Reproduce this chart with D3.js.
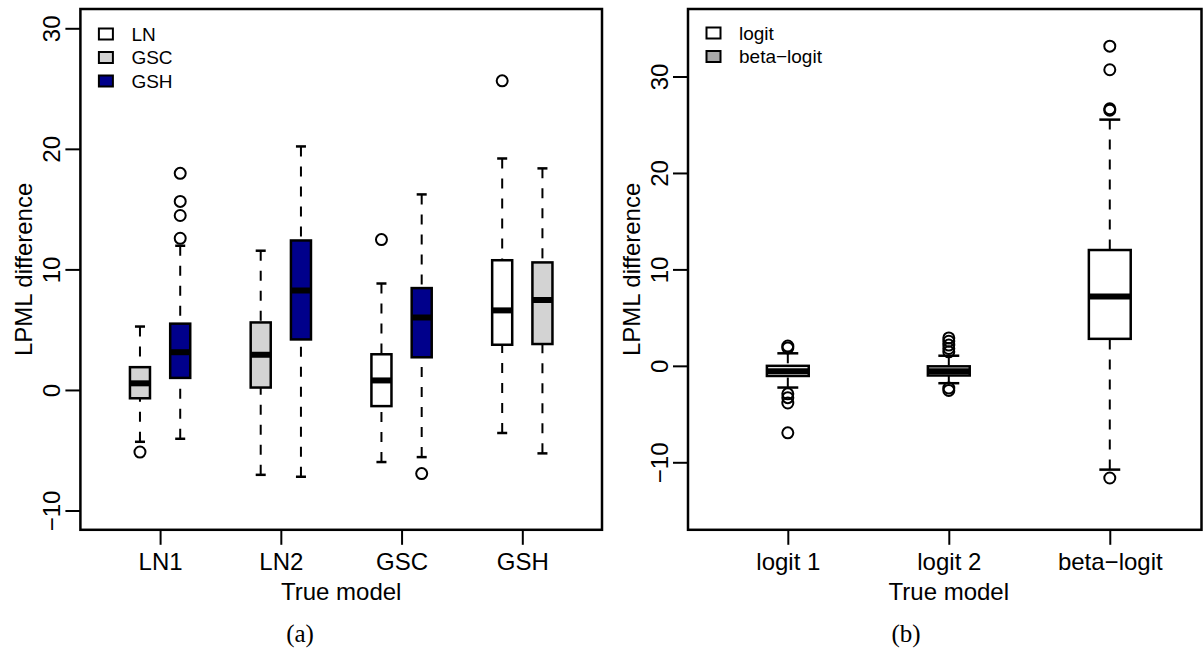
<!DOCTYPE html>
<html>
<head>
<meta charset="utf-8">
<script src="https://cdn.jsdelivr.net/npm/d3@7"></script>
<style>
body { margin: 0; background: #fff; }
text { font-family: "Liberation Sans", Arial, sans-serif; fill: #000; }
</style>
</head>
<body>
<div id="chart"></div>
<script>
// panel (a)
var groupsA = ["LN1", "LN2", "GSC", "GSH"];
var fitsA = ["LN", "GSC", "GSH"];
var boxGroupA = ["LN1", "LN1", "LN2", "LN2", "GSC", "GSC", "GSH", "GSH"];
var boxFitA = ["GSC", "GSH", "GSC", "GSH", "LN", "GSH", "LN", "GSC"];
// lower whisker, q1, median, q3, upper whisker
var statsA = [
    [-4.3, -0.69, 0.55, 1.89, 5.26],
    [-4.05, 1.0, 3.13, 5.5, 11.96],
    [-7.04, 0.2, 2.92, 5.6, 11.55],
    [-7.2, 4.19, 8.25, 12.4, 20.2],
    [-5.98, -1.34, 0.79, 2.96, 8.83],
    [-5.57, 2.71, 6.01, 8.45, 16.22],
    [-3.57, 3.75, 6.6, 10.76, 19.2],
    [-5.26, 3.81, 7.46, 10.58, 18.38]
];
var outliersA = [[-5.15], [12.58, 14.47, 15.64, 17.97], [], [], [12.47], [-6.94], [25.64], []];
var yTicksA = [-10, 0, 10, 20, 30];

// panel (b)
var groupsB = ["logit 1", "logit 2", "beta\u2212logit"];
var fitsB = ["logit", "beta\u2212logit"];
var boxGroupB = ["logit 1", "logit 2", "beta\u2212logit"];
var boxFitB = ["logit", "logit", "logit"];
var statsB = [
    [-2.25, -1.05, -0.55, 0.0, 1.3],
    [-1.8, -1.0, -0.55, -0.05, 1.05],
    [-10.76, 2.8, 7.19, 12.01, 25.53]
];
var outliersB = [
    [1.85, 2.05, -2.9, -3.3, -3.85, -6.95],
    [1.45, 1.8, 2.15, 2.55, 2.9, -2.3, -2.55],
    [26.5, 26.65, 30.7, 33.15, -11.63]
];
var yTicksB = [-10, 0, 10, 20, 30];

var fillA = {"LN": "#ffffff", "GSC": "#d3d3d3", "GSH": "#00008b"};
var fillB = {"logit": "#ffffff", "beta\u2212logit": "#a9a9a9"};

var svg = d3.select("#chart").append("svg")
    .attr("width", 1203)
    .attr("height", 649);

function drawPanel(p) {
    var n = p.groups.length;
    var top = 9, bottom = 529.8;
    var x = d3.scaleLinear().domain([0.5 - 0.04 * n, n + 0.5 + 0.04 * n]).range([p.x0, p.x1]);
    var span = p.ylim[1] - p.ylim[0];
    var y = d3.scaleLinear().domain([p.ylim[0] - 0.04 * span, p.ylim[1] + 0.04 * span]).range([bottom, top]);
    var g = svg.append("g");

    var boxes = p.stats.map(function (s, k) {
        var gi = p.groups.indexOf(p.boxGroup[k]) + 1;
        var same = 0;
        p.boxGroup.forEach(function (b) { if (b == p.boxGroup[k]) same++; });
        var off = 0;
        if (same > 1) {
            off = (k > 0 && p.boxGroup[k - 1] == p.boxGroup[k]) ? p.offset : -p.offset;
        }
        return { pos: gi + off, s: s, fill: p.fill[p.boxFit[k]], out: p.outliers[k] };
    });
    var hw = (x(p.boxW) - x(0)) / 2;

    var bx = g.selectAll(".box").data(boxes).enter().append("g").attr("class", "box");
    // whiskers
    bx.append("line")
        .attr("x1", function (d) { return x(d.pos); })
        .attr("x2", function (d) { return x(d.pos); })
        .attr("y1", function (d) { return y(d.s[0]); })
        .attr("y2", function (d) { return y(d.s[1]); })
        .attr("stroke", "#000").attr("stroke-width", 2).attr("stroke-dasharray", "10,10");
    bx.append("line")
        .attr("x1", function (d) { return x(d.pos); })
        .attr("x2", function (d) { return x(d.pos); })
        .attr("y1", function (d) { return y(d.s[4]); })
        .attr("y2", function (d) { return y(d.s[3]); })
        .attr("stroke", "#000").attr("stroke-width", 2).attr("stroke-dasharray", "10,10");
    // staples
    [0, 4].forEach(function (idx) {
        bx.append("line")
            .attr("x1", function (d) { return x(d.pos) - hw / 2; })
            .attr("x2", function (d) { return x(d.pos) + hw / 2; })
            .attr("y1", function (d) { return y(d.s[idx]); })
            .attr("y2", function (d) { return y(d.s[idx]); })
            .attr("stroke", "#000").attr("stroke-width", 2.5);
    });
    bx.append("rect")
        .attr("x", function (d) { return x(d.pos) - hw; })
        .attr("width", 2 * hw)
        .attr("y", function (d) { return y(d.s[3]); })
        .attr("height", function (d) { return y(d.s[1]) - y(d.s[3]); })
        .attr("fill", function (d) { return d.fill; })
        .attr("stroke", "#000").attr("stroke-width", 2.5);
    bx.append("line")
        .attr("x1", function (d) { return x(d.pos) - hw; })
        .attr("x2", function (d) { return x(d.pos) + hw; })
        .attr("y1", function (d) { return y(d.s[2]); })
        .attr("y2", function (d) { return y(d.s[2]); })
        .attr("stroke", "#000").attr("stroke-width", 6);
    bx.selectAll("circle").data(function (d) {
        return d.out.map(function (v) { return { pos: d.pos, v: v }; });
    }).enter().append("circle")
        .attr("cx", function (d) { return x(d.pos); })
        .attr("cy", function (d) { return y(d.v); })
        .attr("r", 5.5)
        .attr("fill", "none")
        .attr("stroke", "#000").attr("stroke-width", 2);

    // frame (right panel is cut at the page edge)
    var fx1 = Math.min(p.x1, 1201.5);
    g.append("rect")
        .attr("x", p.x0).attr("y", top)
        .attr("width", fx1 - p.x0).attr("height", bottom - top)
        .attr("fill", "none").attr("stroke", "#000").attr("stroke-width", 2.5);

    var xa = g.append("g")
        .attr("transform", "translate(0," + bottom + ")")
        .call(d3.axisBottom(x).tickValues(d3.range(1, n + 1)).tickSize(15)
            .tickFormat(function (d) { return p.groups[d - 1]; }));
    xa.select(".domain").remove();
    xa.selectAll("line").attr("stroke-width", 2);
    xa.selectAll("text").attr("y", 40).attr("dy", 0)
        .attr("font-size", 24).attr("font-family", "Liberation Sans, Arial, sans-serif");

    var ya = g.append("g")
        .attr("transform", "translate(" + p.x0 + ",0)")
        .call(d3.axisLeft(y).tickValues(p.yTicks).tickSize(15));
    ya.select(".domain").remove();
    ya.selectAll("line").attr("stroke-width", 2);
    ya.selectAll("text")
        .attr("transform", "rotate(-90)")
        .attr("x", 0).attr("y", -20).attr("dy", 0)
        .attr("text-anchor", "middle")
        .attr("font-size", 24).attr("font-family", "Liberation Sans, Arial, sans-serif");

    g.append("text")
        .attr("x", (p.x0 + p.x1) / 2).attr("y", 600)
        .attr("text-anchor", "middle").attr("font-size", 24)
        .text("True model");
    g.append("text")
        .attr("transform", "translate(" + (p.x0 - 48) + "," + (top + bottom) / 2 + ") rotate(-90)")
        .attr("text-anchor", "middle").attr("font-size", 24)
        .text("LPML difference");

    // legend
    var lg = g.selectAll(".leg").data(p.legend).enter().append("g")
        .attr("transform", function (d, i) { return "translate(" + p.x0 + "," + (p.legY + i * 23.5) + ")"; });
    lg.append("rect")
        .attr("x", 18.5).attr("y", -5.5).attr("width", 14).attr("height", 11)
        .attr("fill", function (d) { return p.fill[d]; })
        .attr("stroke", "#000").attr("stroke-width", 2);
    lg.append("text")
        .attr("x", 51).attr("y", 6.8).attr("font-size", 19)
        .text(function (d) { return d; });

    g.append("text")
        .attr("x", p.capX).attr("y", 642)
        .attr("text-anchor", "middle").attr("font-size", 25)
        .style("font-family", "'Liberation Serif', 'Times New Roman', serif")
        .text(p.caption);
}

drawPanel({
    x0: 80.4, x1: 602, ylim: [-10, 30], groups: groupsA, boxGroup: boxGroupA, boxFit: boxFitA,
    stats: statsA, outliers: outliersA, fill: fillA, boxW: 0.166, offset: 1 / 6,
    yTicks: yTicksA, legend: fitsA, legY: 34, caption: "(a)", capX: 300
});
drawPanel({
    x0: 688, x1: 1209.6, ylim: [-15, 35], groups: groupsB, boxGroup: boxGroupB, boxFit: boxFitB,
    stats: statsB, outliers: outliersB, fill: fillB, boxW: 0.26, offset: 0,
    yTicks: yTicksB, legend: fitsB, legY: 33, caption: "(b)", capX: 906
});
</script>
</body>
</html>
